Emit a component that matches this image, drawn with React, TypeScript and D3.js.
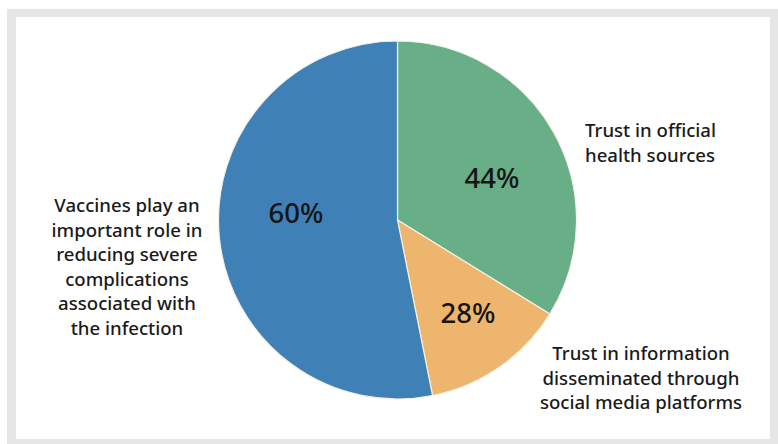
import React from "react";
import * as d3 from "d3";

const categories = ["Trust in official health sources", "Trust in information disseminated through social media platforms", "Vaccines play an important role in reducing severe complications associated with the infection"];
const percentLabels = ["44%", "28%", "60%"];
// slice shares as drawn in the picture (degrees of arc estimated)
const sliceShares = [121.7, 47.0, 191.3];
const colors = ["#68ae86", "#edb56d", "#3f80b7"];
const labelLines = [
  ["Trust in official", "health sources"],
  ["Trust in information", "disseminated through", "social media platforms"],
  ["Vaccines play an", "important role in", "reducing severe", "complications", "associated with", "the infection"],
];

const W = 778, H = 444;
const cx = 397.5, cy = 220, R = 179;
const FONT = "'Noto Sans', 'Open Sans', sans-serif";

export default function App() {
  const pie = d3.pie<number>().sort(null).value((d) => d);
  const arcs = pie(sliceShares);
  const arc = d3.arc<d3.PieArcDatum<number>>().innerRadius(0).outerRadius(R);
  const pctPos: [number, number][] = [[492, 187.5], [468, 322.5], [296, 222.5]];
  const labelCfg = [
    { x: 585, y: 137, anchor: "start" },
    { x: 641, y: 360, anchor: "middle" },
    { x: 127, y: 212, anchor: "middle" },
  ];
  return (
    <svg width={W} height={H} style={{ position: "absolute", left: 0, top: 0 }}>
      <rect x={0} y={0} width={W} height={H} fill="#ffffff" />
      <rect x={7} y={9} width={W - 7} height={H - 9} fill="#e6e6e6" />
      <rect x={16} y={17} width={754} height={422} fill="#ffffff" />
      <g transform={`translate(${cx},${cy})`}>
        {arcs.map((a, i) => (
          <path key={categories[i]} d={arc(a) || ""} fill={colors[i]} stroke="#f4f1e6" strokeWidth={1.2} />
        ))}
      </g>
      {percentLabels.map((t, i) => (
        <text key={t} x={pctPos[i][0]} y={pctPos[i][1]} textAnchor="middle" fontFamily={FONT} fontSize={27.5} fontWeight={500} fill="#151515">
          {t}
        </text>
      ))}
      {labelLines.map((lines, i) => (
        <text key={i} fontFamily={FONT} fontSize={18.6} fontWeight={500} fill="#1a1a1a" textAnchor={labelCfg[i].anchor as any}>
          {lines.map((l, j) => (
            <tspan key={j} x={labelCfg[i].x} y={labelCfg[i].y + j * 24.6}>{l}</tspan>
          ))}
        </text>
      ))}
    </svg>
  );
}
